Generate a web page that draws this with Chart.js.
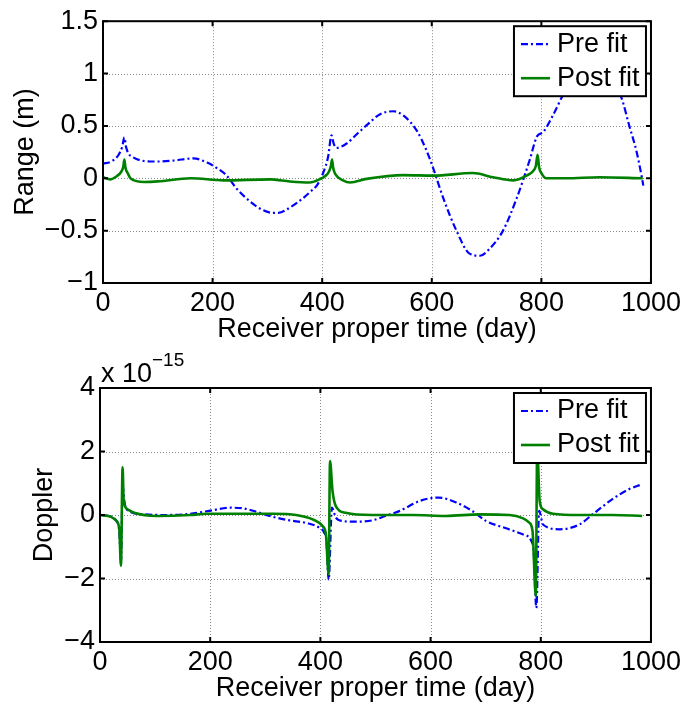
<!DOCTYPE html>
<html>
<head>
<meta charset="UTF-8">
<title>Range and Doppler residuals</title>
<script src="https://cdn.jsdelivr.net/npm/chart.js"></script>
<style>
    body { margin: 0; background: #fff; }
    .plot { position: absolute; left: 0; width: 685px; }
    #topPlot { top: 0; height: 350px; }
    #bottomPlot { top: 350px; height: 357px; }
</style>
</head>
<body>
<div class="plot" id="topPlot"><canvas id="rangeChart"></canvas></div>
<div class="plot" id="bottomPlot"><canvas id="dopplerChart"></canvas></div>
<script>
// axis ticks
const dayTicks = [0, 200, 400, 600, 800, 1000];
const rangeTicks = [-1, -0.5, 0, 0.5, 1, 1.5];
const dopplerTicks = [-4, -2, 0, 2, 4];   // in units of 1e-15
const seriesLabels = ['Pre fit', 'Post fit'];

// range residuals (m)
const rangePreDays = [0, 15, 28, 35, 39, 42, 46, 55, 75, 100, 130, 165, 190, 207, 225, 244, 268, 290, 310, 320,
    341, 365, 378, 390, 402, 411, 417, 421, 426, 444, 465, 484, 505, 530, 548, 572, 590, 603, 621, 645,
    669, 688, 706, 730, 755, 779, 792, 803, 822, 840, 865, 893, 920, 946, 961, 973, 983, 986];
const rangePreValues = [0.14, 0.16, 0.22, 0.30, 0.39, 0.30, 0.24, 0.20, 0.165, 0.16, 0.17, 0.19, 0.15, 0.10, 0.03, -0.10, -0.22, -0.30, -0.33, -0.33,
    -0.28, -0.19, -0.13, -0.07, 0.055, 0.21, 0.41, 0.33, 0.29, 0.33, 0.43, 0.52, 0.61, 0.64, 0.60, 0.46, 0.27, 0.09, -0.19, -0.50,
    -0.72, -0.74, -0.67, -0.50, -0.19, 0.18, 0.40, 0.44, 0.61, 0.80, 1.0, 1.08, 1.0, 0.77, 0.49, 0.27, 0.02, -0.07];
const rangePostDays = [0, 13, 25, 33, 37, 39, 41, 45, 51, 75, 100, 160, 220, 305, 341, 377, 395, 405, 412, 416,
    418, 420, 424, 438, 451, 481, 548, 603, 675, 712, 749, 773, 785, 790, 793, 796, 800, 809, 845, 906, 985];
const rangePostValues = [0.01, -0.01, 0.02, 0.06, 0.11, 0.18, 0.10, 0.05, -0.005, -0.035, -0.03, 0.0, -0.02, -0.01, -0.03, -0.04, -0.01, 0.02, 0.06, 0.12,
    0.18, 0.10, 0.04, -0.02, -0.04, -0.006, 0.03, 0.025, 0.05, 0.01, -0.02, 0.025, 0.07, 0.12, 0.225, 0.10, 0.05, 0.0, 0.0, 0.01, 0.0];

// doppler residuals (x 1e-15)
const dopplerPreDays = [0, 20, 30, 35, 38, 41, 45, 55, 80, 120, 160, 198, 236, 260, 284, 314, 344, 374, 398, 407,
    411, 415, 421, 428, 440, 464, 494, 518, 544, 580, 614, 647, 677, 701, 737, 767, 783, 787, 792, 797,
    804, 834, 870, 894, 930, 960, 984];
const dopplerPreValues = [0, -0.05, -0.2, -0.5, -1.5, 0.9, 0.35, 0.1, 0.02, 0.0, 0.03, 0.13, 0.23, 0.21, 0.10, -0.06, -0.17, -0.25, -0.40, -0.56,
    -0.82, -2.04, 0.23, -0.08, -0.19, -0.21, -0.17, -0.03, 0.13, 0.44, 0.55, 0.39, 0.11, -0.19, -0.42, -0.61, -0.82, -1.14, -2.93, 0.13,
    -0.30, -0.45, -0.30, 0.02, 0.50, 0.81, 0.97];
const dopplerPostDays = [0, 20, 29, 35, 38, 41, 43, 50, 62, 104, 164, 194, 254, 314, 356, 386, 404, 410, 415, 417.5,
    422, 428, 446, 494, 568, 628, 689, 743, 767, 779, 785, 791, 793.5, 798, 804, 822, 870, 930, 984];
const dopplerPostValues = [0, -0.06, -0.17, -0.45, -1.6, 1.5, 0.44, 0.18, 0.07, -0.03, 0.0, 0.04, 0.04, 0.04, 0.0, -0.14, -0.35, -0.61, -1.87, 1.7,
    0.76, 0.28, 0.07, 0.0, 0.0, -0.03, 0.02, 0.0, -0.1, -0.24, -0.5, -2.56, 2.1, 0.44, 0.18, 0.04, 0.0, 0.0, -0.03];

const FONT_FAMILY = "'Liberation Sans', Arial, Helvetica, sans-serif";
const FONT = '27px ' + FONT_FAMILY;
Chart.defaults.font.family = FONT_FAMILY;
Chart.defaults.color = '#000';

function toPoints(days, values) {
    return days.map((d, i) => ({ x: d, y: values[i] }));
}

function minusSign(v) {
    return String(v).replace('-', '\u2212');
}

// matlab style frame: dotted grid, full box, inward ticks, boxed legend
const matlabFrame = {
    id: 'matlabFrame',
    beforeDatasetsDraw(chart) {
        const { ctx, chartArea: a, scales: { x, y } } = chart;
        ctx.save();
        ctx.strokeStyle = '#8a8a8a';
        ctx.lineWidth = 1;
        ctx.setLineDash([1, 2]);
        ctx.beginPath();
        x.ticks.forEach(t => {
            const px = Math.round(x.getPixelForValue(t.value)) + 0.5;
            ctx.moveTo(px, a.top);
            ctx.lineTo(px, a.bottom);
        });
        y.ticks.forEach(t => {
            const py = Math.round(y.getPixelForValue(t.value)) + 0.5;
            ctx.moveTo(a.left, py);
            ctx.lineTo(a.right, py);
        });
        ctx.stroke();
        ctx.restore();
    },
    afterDatasetsDraw(chart, args, opts) {
        const { ctx, chartArea: a, scales: { x, y } } = chart;
        ctx.save();
        ctx.strokeStyle = '#000';
        ctx.lineWidth = 2;
        ctx.setLineDash([]);
        ctx.strokeRect(a.left, a.top, a.right - a.left, a.bottom - a.top);

        // inward tick marks on all four sides
        ctx.beginPath();
        x.ticks.forEach(t => {
            const px = x.getPixelForValue(t.value);
            ctx.moveTo(px, a.bottom); ctx.lineTo(px, a.bottom - 5);
            ctx.moveTo(px, a.top); ctx.lineTo(px, a.top + 5);
        });
        y.ticks.forEach(t => {
            const py = y.getPixelForValue(t.value);
            ctx.moveTo(a.left, py); ctx.lineTo(a.left + 5, py);
            ctx.moveTo(a.right, py); ctx.lineTo(a.right - 5, py);
        });
        ctx.stroke();

        // legend box in the top right corner
        const bw = 132, bh = 70;
        const bx = a.right - 5 - bw, by = a.top + 5;
        ctx.fillStyle = '#fff';
        ctx.fillRect(bx, by, bw, bh);
        ctx.strokeRect(bx, by, bw, bh);
        chart.data.datasets.forEach((ds, i) => {
            const cy = by + 18 + i * 34;
            ctx.strokeStyle = ds.borderColor;
            ctx.lineWidth = ds.borderWidth;
            ctx.setLineDash(ds.borderDash || []);
            ctx.beginPath();
            ctx.moveTo(bx + 7, cy);
            ctx.lineTo(bx + 36, cy);
            ctx.stroke();
            ctx.setLineDash([]);
            ctx.fillStyle = '#000';
            ctx.font = FONT;
            ctx.textAlign = 'left';
            ctx.textBaseline = 'middle';
            ctx.fillText(ds.label, bx + 43, cy);
        });

        // axis multiplier above the plot
        if (opts.exponent) {
            ctx.fillStyle = '#000';
            ctx.textAlign = 'left';
            ctx.textBaseline = 'alphabetic';
            ctx.font = FONT;
            ctx.fillText('x 10', a.left + 1, a.top - 6);
            ctx.font = '19px ' + FONT_FAMILY;
            ctx.fillText(opts.exponent, a.left + 52, a.top - 22);
        }
        ctx.restore();
    }
};

function makeChart(canvasId, cfg) {
    const datasets = [
        {
            label: seriesLabels[0],
            data: toPoints(cfg.preDays, cfg.preValues),
            borderColor: '#0000ff',
            borderWidth: 2.2,
            borderDash: [7, 3, 2, 3],
            order: 1
        },
        {
            label: seriesLabels[1],
            data: toPoints(cfg.postDays, cfg.postValues),
            borderColor: '#008000',
            borderWidth: 2.6,
            order: 0
        }
    ];
    datasets.forEach(ds => {
        ds.pointRadius = 0;
        ds.fill = false;
        ds.cubicInterpolationMode = 'monotone';
    });

    return new Chart(document.getElementById(canvasId), {
        type: 'line',
        data: { datasets: datasets },
        options: {
            responsive: true,
            maintainAspectRatio: false,
            animation: false,
            devicePixelRatio: 1,
            layout: {
                autoPadding: false,
                padding: { top: cfg.padTop, right: 33, bottom: 0, left: 0 }
            },
            plugins: {
                legend: { display: false },
                tooltip: { enabled: false },
                matlabFrame: { exponent: cfg.exponent }
            },
            scales: {
                x: {
                    type: 'linear',
                    min: 0,
                    max: 1000,
                    afterBuildTicks: scale => { scale.ticks = dayTicks.map(v => ({ value: v })); },
                    afterFit: scale => { scale.height = cfg.xHeight; },
                    grid: { display: false, drawTicks: false, tickLength: 0 },
                    border: { display: false },
                    ticks: { font: { size: 27 }, color: '#000', padding: 4, maxRotation: 0, autoSkip: false,
                             callback: v => String(v) },
                    title: {
                        display: true,
                        text: 'Receiver proper time (day)',
                        font: { size: 27 },
                        color: '#000',
                        padding: { top: 0, bottom: cfg.xTitlePad }
                    }
                },
                y: {
                    type: 'linear',
                    min: cfg.yTicks[0],
                    max: cfg.yTicks[cfg.yTicks.length - 1],
                    afterBuildTicks: scale => { scale.ticks = cfg.yTicks.map(v => ({ value: v })); },
                    afterFit: scale => { scale.width = cfg.yWidth; },
                    grid: { display: false, drawTicks: false, tickLength: 0 },
                    border: { display: false },
                    ticks: { font: { size: 27 }, color: '#000', padding: 5, callback: minusSign },
                    title: {
                        display: true,
                        text: cfg.yTitle,
                        font: { size: 27 },
                        color: '#000',
                        padding: { top: cfg.yTitlePad, bottom: 0 }
                    }
                }
            }
        },
        plugins: [matlabFrame]
    });
}

makeChart('rangeChart', {
    preDays: rangePreDays, preValues: rangePreValues,
    postDays: rangePostDays, postValues: rangePostValues,
    yTicks: rangeTicks, yTitle: 'Range (m)',
    padTop: 15, xHeight: 67, yWidth: 103, xTitlePad: 4, yTitlePad: 9,
    exponent: null
});

makeChart('dopplerChart', {
    preDays: dopplerPreDays, preValues: dopplerPreValues,
    postDays: dopplerPostDays, postValues: dopplerPostValues,
    yTicks: dopplerTicks, yTitle: 'Doppler',
    padTop: 38, xHeight: 65, yWidth: 100, xTitlePad: 2, yTitlePad: 28,
    exponent: '\u221215'
});
</script>
</body>
</html>
